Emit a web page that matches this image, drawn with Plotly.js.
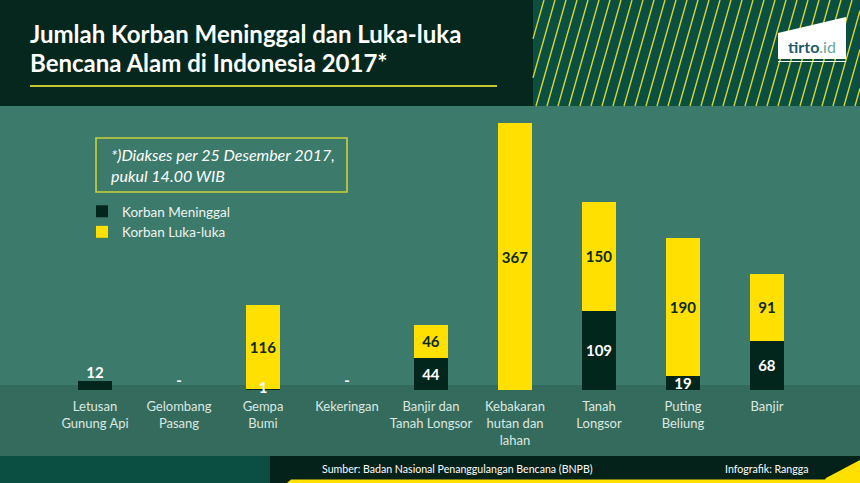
<!DOCTYPE html>
<html>
<head>
<meta charset="utf-8">
<script src="https://cdn.plot.ly/plotly-3.0.1.min.js"></script>
<style>
html,body{margin:0;padding:0;background:#3c7a6b;}
#chart{width:860px;height:483px;}
</style>
</head>
<body>
<div id="chart"></div>
<script>
// ---- data ----
const categories = ['Letusan<br>Gunung Api','Gelombang<br>Pasang','Gempa<br>Bumi','Kekeringan','Banjir dan<br>Tanah Longsor','Kebakaran<br>hutan dan<br>lahan','Tanah<br>Longsor','Puting<br>Beliung','Banjir'];
const meninggal = [12, 0, 1, 0, 44, 0, 109, 19, 68];
const luka = [0, 0, 116, 0, 46, 367, 150, 190, 91];
const meninggalText = ['', '', '', '', '44', '', '109', '19', '68'];
const lukaText = ['', '', '116', '', '46', '367', '150', '190', '91'];
const extraLabelCats = ['Letusan<br>Gunung Api','Gelombang<br>Pasang','Gempa<br>Bumi','Kekeringan'];
const extraLabelVals = [12, 0, 1, 0];
const extraLabelText = ['12', '-', '1', '-'];
const extraLabelPos = ['top center', 'top center', 'middle center', 'top center'];
const seriesNames = ['Korban Meninggal', 'Korban Luka-luka'];

// ---- layout helpers (pixel -> paper) ----
const L = 53, R = 809, T = 115, B = 390;
const W = R - L, H = B - T;
const px = x => (x - L) / W;
const py = y => (B - y) / H;

const DARK = '#03261c', YELLOW = '#ffe000';
const shapes = [];
function rect(x0, y0, x1, y1, color, line) {
  shapes.push({type:'rect', xref:'paper', yref:'paper', x0:px(x0), x1:px(x1), y0:py(y1), y1:py(y0),
    fillcolor:color, line: line || {width:0}, layer:'below'});
}
function path(pts, color) {
  const d = pts.map((p,i)=> (i?'L':'M') + px(p[0]) + ',' + py(p[1])).join(' ') + ' Z';
  shapes.push({type:'path', xref:'paper', yref:'paper', path:d, fillcolor:color, line:{width:0}, layer:'below'});
}
// header
rect(0, 0, 533, 106, '#05271d');
rect(533, 0, 860, 106, '#0b4f41');
// stripes
(function(){
  const x0 = 533, x1 = 860, y0 = 0, y1 = 106, dx = 30, sp = 11;
  let d = '';
  for (let xb = x0 - dx; xb < x1 + 2; xb += sp) {
    let ax = xb, ay = y1, bx = xb + dx, by = y0;
    if (ax < x0) { const t = (x0 - ax) / dx; ax = x0; ay = y1 - t * (y1 - y0); }
    if (bx > x1) { const t = (bx - x1) / dx; bx = x1; by = y0 + t * (y1 - y0); }
    if (ax >= bx) continue;
    d += 'M' + px(ax) + ',' + py(ay) + ' L' + px(bx) + ',' + py(by) + ' ';
  }
  shapes.push({type:'path', xref:'paper', yref:'paper', path:d, line:{color:'#d6d62c', width:1.4}, layer:'below'});
})();
// logo
path([[778,33],[846,17],[846,59],[778,59]], '#ffffff');
shapes.push({type:'line', xref:'paper', yref:'paper', x0:px(778), x1:px(846), y0:py(61.5), y1:py(61.5), line:{color:'#ffffff', width:1}, layer:'below'});
// title underline
shapes.push({type:'line', xref:'paper', yref:'paper', x0:px(30), x1:px(497), y0:py(86), y1:py(86), line:{color:'#c3c531', width:2}, layer:'below'});
// lower band
rect(0, 385, 860, 456, '#356b5c');
// footer
rect(0, 456, 270, 483, '#0a4f42');
rect(270, 456, 860, 483, '#05221a');
path([[287,483],[291,479.5],[860,479.5],[860,483]], YELLOW);
path([[823,483],[826,478],[860,460],[860,483]], YELLOW);
// note box
shapes.push({type:'rect', xref:'paper', yref:'paper', x0:px(96), x1:px(347), y0:py(192), y1:py(138),
  fillcolor:'rgba(0,0,0,0)', line:{color:'#c9d23a', width:1.6}, layer:'below'});

const annotations = [
  {text:'<b>Jumlah Korban Meninggal dan Luka-luka</b>', x:px(28), y:py(33), xref:'paper', yref:'paper', xanchor:'left', yanchor:'middle', showarrow:false,
   font:{family:'Lato', size:24, color:'#ffffff'}},
  {text:'<b>Bencana Alam di Indonesia 2017*</b>', x:px(28), y:py(63), xref:'paper', yref:'paper', xanchor:'left', yanchor:'middle', showarrow:false,
   font:{family:'Lato', size:24, color:'#ffffff'}},
  {text:'<i>*)Diakses per 25 Desember 2017,<br>pukul 14.00 WIB</i>', x:px(109), y:py(165), xref:'paper', yref:'paper', xanchor:'left', yanchor:'middle', align:'left', showarrow:false,
   font:{family:'Lato', size:16, color:'#ffffff'}},
  {text:'<b>tirto</b><span style="color:#6aa59a">.id</span>', x:px(812), y:py(47), xref:'paper', yref:'paper', xanchor:'center', yanchor:'middle', showarrow:false,
   font:{family:'Lato', size:16, color:'#1f5c69'}},
  {text:'Sumber: Badan Nasional Penanggulangan Bencana (BNPB)', x:px(320), y:py(469), xref:'paper', yref:'paper', xanchor:'left', yanchor:'middle', showarrow:false,
   font:{family:'Lato', size:10.6, color:'#ffffff'}},
  {text:'Infografik: Rangga', x:px(723), y:py(469), xref:'paper', yref:'paper', xanchor:'left', yanchor:'middle', showarrow:false,
   font:{family:'Lato', size:10.6, color:'#ffffff'}}
];

const traces = [
  {type:'bar', name:seriesNames[0], x:categories, y:meninggal, text:meninggalText, textposition:'inside', insidetextanchor:'middle',
   textangle:0, constraintext:'none', textfont:{family:'Lato', size:15, color:'#ffffff', weight:'bold'},
   marker:{color:DARK, line:{width:0}}, hoverinfo:'skip'},
  {type:'bar', name:seriesNames[1], x:categories, y:luka, text:lukaText, textposition:'inside', insidetextanchor:'middle',
   textangle:0, constraintext:'none', textfont:{family:'Lato', size:15, color:'#0c2a20', weight:'bold'},
   marker:{color:YELLOW, line:{width:0}}, hoverinfo:'skip'},
  {type:'scatter', mode:'text', x:extraLabelCats, y:extraLabelVals, text:extraLabelText, textposition:extraLabelPos,
   textfont:{family:'Lato', size:15, color:'#ffffff', weight:'bold'}, showlegend:false, hoverinfo:'skip', cliponaxis:false}
];

const layout = {
  width:860, height:483,
  margin:{l:L, r:860-R, t:T, b:483-B, pad:0},
  paper_bgcolor:'#3c7a6b', plot_bgcolor:'rgba(0,0,0,0)',
  barmode:'stack', bargap:0.595,
  showlegend:true,
  legend:{x:px(82), y:py(196), xanchor:'left', yanchor:'top', traceorder:'normal', bgcolor:'rgba(0,0,0,0)',
    font:{family:'Lato', size:13.5, color:'#eef4f0'}, itemclick:false, itemdoubleclick:false},
  xaxis:{type:'category', showgrid:false, zeroline:false, showline:false, ticks:'',
    tickfont:{family:'Lato', size:13, color:'#dbe8e2'}, ticklabelstandoff:7, fixedrange:true},
  yaxis:{range:[0, H/0.7275], visible:false, showgrid:false, zeroline:false, fixedrange:true},
  shapes:shapes, annotations:annotations,
  uniformtext:{mode:'show', minsize:15},
  font:{family:'Lato'}
};

Plotly.newPlot('chart', traces, layout, {displayModeBar:false, staticPlot:true});
</script>
</body>
</html>
